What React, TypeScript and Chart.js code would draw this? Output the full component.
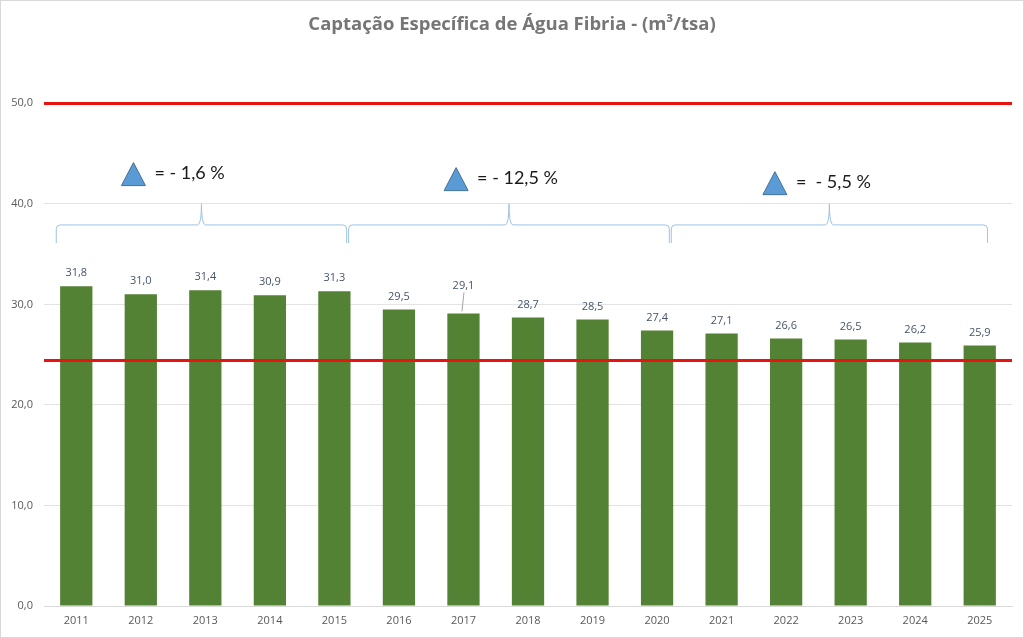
import React, { useEffect, useRef } from 'react';
import { Chart, registerables } from 'chart.js';

Chart.register(...registerables);

const titleText = 'Captação Específica de Água Fibria - (m³/tsa)';
const years = ['2011', '2012', '2013', '2014', '2015', '2016', '2017', '2018', '2019', '2020', '2021', '2022', '2023', '2024', '2025'];
const values = [31.8, 31.0, 31.4, 30.9, 31.3, 29.5, 29.1, 28.7, 28.5, 27.4, 27.1, 26.6, 26.5, 26.2, 25.9];
const yTicks = [0, 10, 20, 30, 40, 50];
const referenceLines = [50, 24.5];
const periodChanges = ['= - 1,6 %', '= - 12,5 %', '=  - 5,5 %'];

// layout of the annotations (in category-index units / axis values)
const braceLayout = [
  { from: -0.31, to: 4.19, tri: 0.70, triTop: 44.1 },
  { from: 4.22, to: 9.19, tri: 5.70, triTop: 43.6 },
  { from: 9.22, to: 14.12, tri: 10.64, triTop: 43.2 },
];
const liftedLabels: Record<number, number> = { 6: 15 };

const fmt = (v: number) => v.toFixed(1).replace('.', ',');

const decorPlugin = {
  id: 'decor',
  beforeDraw(chart: any) {
    const { ctx, width, height } = chart;
    ctx.save();
    ctx.fillStyle = '#ffffff';
    ctx.fillRect(0, 0, width, height);
    ctx.fillStyle = '#767676';
    ctx.font = 'bold 18.5px "Open Sans", sans-serif';
    ctx.textAlign = 'center';
    ctx.textBaseline = 'middle';
    ctx.fillText(titleText, 512, 25);
    ctx.restore();
  },
  afterDatasetsDraw(chart: any) {
    const { ctx, chartArea, scales, width, height } = chart;
    const x = scales.x;
    const y = scales.y;
    ctx.save();
    // reference lines
    ctx.strokeStyle = '#e8140f';
    ctx.lineWidth = 3;
    referenceLines.forEach((v) => {
      const py = Math.round(y.getPixelForValue(v)) + 0.5;
      ctx.beginPath();
      ctx.moveTo(chartArea.left, py);
      ctx.lineTo(chartArea.right, py);
      ctx.stroke();
    });
    // data labels
    const meta = chart.getDatasetMeta(0);
    ctx.font = '11px "Open Sans", sans-serif';
    ctx.fillStyle = '#44546a';
    ctx.textAlign = 'center';
    ctx.textBaseline = 'middle';
    meta.data.forEach((bar: any, i: number) => {
      const lift = liftedLabels[i] || 0;
      const ly = bar.y - 13 - lift;
      ctx.fillText(fmt(values[i]), bar.x, ly);
      if (lift) {
        ctx.strokeStyle = '#a6a6a6';
        ctx.lineWidth = 1;
        ctx.beginPath();
        ctx.moveTo(bar.x + 0.5, ly + 7);
        ctx.lineTo(bar.x - 1.5, bar.y - 2);
        ctx.stroke();
      }
    });
    // braces, triangles, texts
    const yTip = y.getPixelForValue(40);
    const yMid = y.getPixelForValue(37.9);
    const yEnd = y.getPixelForValue(36.1);
    braceLayout.forEach((b, i) => {
      const x0 = x.getPixelForValue(b.from);
      const x1 = x.getPixelForValue(b.to);
      const xm = (x0 + x1) / 2;
      const r = 4;
      ctx.strokeStyle = '#9dc3e6';
      ctx.lineWidth = 1;
      ctx.beginPath();
      ctx.moveTo(x0, yEnd);
      ctx.lineTo(x0, yMid + r);
      ctx.quadraticCurveTo(x0, yMid, x0 + r, yMid);
      ctx.lineTo(xm - r, yMid);
      ctx.quadraticCurveTo(xm, yMid, xm, yTip);
      ctx.quadraticCurveTo(xm, yMid, xm + r, yMid);
      ctx.lineTo(x1 - r, yMid);
      ctx.quadraticCurveTo(x1, yMid, x1, yMid + r);
      ctx.lineTo(x1, yEnd);
      ctx.stroke();

      const tx = x.getPixelForValue(b.tri);
      const ty = y.getPixelForValue(b.triTop);
      const tw = 24;
      const th = 23;
      ctx.fillStyle = '#5b9bd5';
      ctx.strokeStyle = '#41719c';
      ctx.beginPath();
      ctx.moveTo(tx + tw / 2, ty);
      ctx.lineTo(tx + tw, ty + th);
      ctx.lineTo(tx, ty + th);
      ctx.closePath();
      ctx.fill();
      ctx.stroke();

      ctx.fillStyle = '#1a1a1a';
      ctx.font = '18px Lato, sans-serif';
      ctx.textAlign = 'left';
      ctx.textBaseline = 'middle';
      ctx.fillText(periodChanges[i], tx + 33, ty + th / 2 - 1);
    });
    // outer border
    ctx.strokeStyle = '#d9d9d9';
    ctx.lineWidth = 1;
    ctx.strokeRect(0.5, 0.5, width - 1, height - 1);
    ctx.restore();
  },
};

export default function App() {
  const ref = useRef<HTMLCanvasElement>(null);
  useEffect(() => {
    document.body.style.margin = '0';
    const chart = new Chart(ref.current as HTMLCanvasElement, {
      type: 'bar',
      data: {
        labels: years,
        datasets: [
          {
            data: values,
            backgroundColor: '#548235',
            barPercentage: 1,
            categoryPercentage: 0.5,
          },
        ],
      },
      options: {
        animation: false,
        responsive: true,
        maintainAspectRatio: false,
        layout: { padding: { left: 0, right: 12, top: 53, bottom: 0 } },
        plugins: {
          legend: { display: false },
          tooltip: { enabled: false },
          title: { display: false },
        },
        scales: {
          x: {
            grid: { display: false, drawTicks: false },
            border: { display: true, color: '#d9d9d9', width: 1 },
            ticks: { color: '#595959', font: { family: '"Open Sans", sans-serif', size: 11 }, padding: 8 },
            afterFit: (axis: any) => {
              axis.height = 32;
            },
          },
          y: {
            min: 0,
            max: 55,
            afterBuildTicks: (axis: any) => {
              axis.ticks = yTicks.map((v) => ({ value: v }));
            },
            grid: { color: '#e3e3e3', drawTicks: false },
            border: { display: false },
            ticks: {
              color: '#595959',
              font: { family: '"Open Sans", sans-serif', size: 11 },
              padding: 11,
              callback: (v: any) => fmt(Number(v)),
            },
            afterFit: (axis: any) => {
              axis.width = 44;
            },
          },
        },
      },
      plugins: [decorPlugin],
    } as any);
    return () => chart.destroy();
  }, []);
  return (
    <div style={{ position: 'relative', width: 1024, height: 638 }}>
      <canvas ref={ref} />
    </div>
  );
}
